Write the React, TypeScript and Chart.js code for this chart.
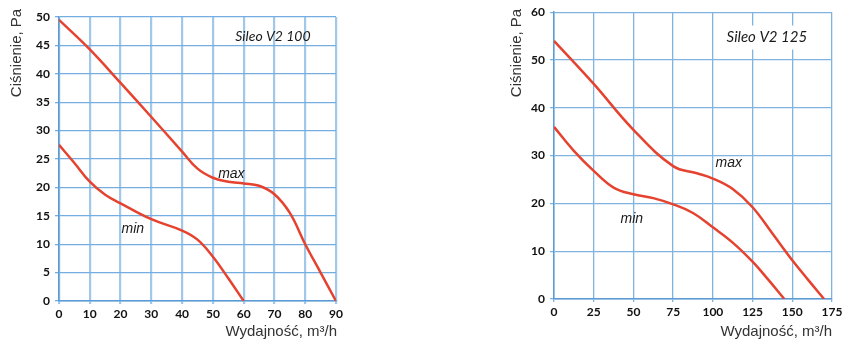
import React, { useEffect, useRef } from "react";
import { Chart, registerables } from "chart.js";

Chart.register(...registerables);

// ---- Data: Sileo V2 100 ----
const v100MaxX = [0, 10, 20, 30, 40, 45, 50, 55, 60, 65, 70, 75, 80, 85, 90];
const v100MaxY = [49.5, 44.3, 38.4, 32.4, 26.3, 23.3, 21.7, 21.0, 20.7, 20.3, 18.8, 15.5, 10, 5, 0];
const v100MinX = [0, 5, 10, 15, 20, 30, 40, 45, 50, 55, 60];
const v100MinY = [27.5, 24.3, 21, 18.7, 17.2, 14.4, 12.4, 10.8, 7.8, 4, 0];

// ---- Data: Sileo V2 125 ----
const v125MaxX = [0, 25, 50, 75, 90, 100, 112.5, 125, 137.5, 150, 160, 170];
const v125MaxY = [54, 45, 35.4, 27.8, 26.3, 25.2, 23, 19.2, 13.7, 8.1, 4, 0];
const v125MinX = [0, 12.5, 25, 37.5, 50, 62.5, 75, 87.5, 100, 112.5, 125, 135, 145];
const v125MinY = [36, 31, 26.8, 23.3, 21.9, 21.1, 19.8, 18, 15, 11.8, 7.8, 4, 0];

const yTitle = "Ciśnienie, Pa";
const xTitle = "Wydajność, m³/h";
const title100 = "Sileo V2 100";
const title125 = "Sileo V2 125";
const maxLabel = "max";
const minLabel = "min";

const RED = "#e5432f";

function pts(xs: number[], ys: number[]) {
  return xs.map((x, i) => ({ x, y: ys[i] }));
}

type Note = { text: string; x: number; y: number; font: string; box?: boolean };

function makeConfig(opts: {
  maxPts: { x: number; y: number }[];
  minPts: { x: number; y: number }[];
  xMax: number;
  xStep: number;
  yMax: number;
  yStep: number;
  yAxisW: number;
  padRight: number;
  padTop: number;
  xAxisH: number;
  xGridColor: string;
  xGridWidth: number;
  yGridColor: string;
  notes: Note[];
  xTitleRight: number;
}) {
  const notesPlugin = {
    id: "notes",
    afterDraw(chart: any) {
      const ctx = chart.ctx as CanvasRenderingContext2D;
      const xs = chart.scales.x;
      const ys = chart.scales.y;
      ctx.save();
      for (const n of opts.notes) {
        const px = xs.getPixelForValue(n.x);
        const py = ys.getPixelForValue(n.y);
        ctx.font = n.font;
        ctx.textBaseline = "middle";
        ctx.textAlign = "center";
        if (n.box) {
          const w = ctx.measureText(n.text).width;
          ctx.fillStyle = "#ffffff";
          ctx.fillRect(px - w / 2 - 8, py - 12, w + 16, 24);
        }
        ctx.fillStyle = "#1a1a1a";
        ctx.fillText(n.text, px, py);
      }
      // axis titles
      ctx.fillStyle = "#333333";
      ctx.font = "15px 'Liberation Sans', Arial, sans-serif";
      ctx.save();
      ctx.translate(17, 53);
      ctx.rotate(-Math.PI / 2);
      ctx.textAlign = "center";
      ctx.textBaseline = "middle";
      ctx.fillText(yTitle, 0, 0);
      ctx.restore();
      ctx.textAlign = "right";
      ctx.textBaseline = "middle";
      ctx.fillText(xTitle, opts.xTitleRight, 332);
      ctx.restore();
    },
  };

  const tickFont = { family: "Lato, 'Open Sans', sans-serif", size: 12, weight: "bold" as const };

  const lineDs = (data: { x: number; y: number }[]) => ({
    data,
    borderColor: RED,
    borderWidth: 2.5,
    pointRadius: 0,
    tension: 0.4,
    fill: false,
  });

  return {
    type: "line" as const,
    data: {
      datasets: [lineDs(opts.maxPts), lineDs(opts.minPts)],
    },
    options: {
      animation: false as const,
      responsive: false,
      layout: { padding: { left: 0, right: opts.padRight, top: opts.padTop, bottom: 0 } },
      plugins: { legend: { display: false }, tooltip: { enabled: false } },
      scales: {
        x: {
          type: "linear" as const,
          min: 0,
          max: opts.xMax,
          ticks: { stepSize: opts.xStep, color: "#111", font: tickFont, padding: 3, maxRotation: 0 },
          grid: { color: opts.xGridColor, lineWidth: opts.xGridWidth, tickLength: 3 },
          border: { color: "#5b9bd5", width: 1.5 },
          afterFit: (s: any) => {
            s.height = opts.xAxisH;
          },
        },
        y: {
          type: "linear" as const,
          min: 0,
          max: opts.yMax,
          ticks: { stepSize: opts.yStep, color: "#111", font: tickFont, padding: 5 },
          grid: { color: opts.yGridColor, lineWidth: 1.3, tickLength: 4 },
          border: { color: "#5b9bd5", width: 1.5 },
          afterFit: (s: any) => {
            s.width = opts.yAxisW;
          },
        },
      },
    },
    plugins: [notesPlugin],
  };
}

export default function App() {
  const leftRef = useRef<HTMLCanvasElement>(null);
  const rightRef = useRef<HTMLCanvasElement>(null);

  useEffect(() => {
    const italicCal = "italic 14px Lato, 'Open Sans', sans-serif";
    const italicArial = "italic 14px 'Liberation Sans', Arial, sans-serif";
    const c1 = new Chart(
      leftRef.current as HTMLCanvasElement,
      makeConfig({
        maxPts: pts(v100MaxX, v100MaxY),
        minPts: pts(v100MinX, v100MinY),
        xMax: 90,
        xStep: 10,
        yMax: 50,
        yStep: 5,
        yAxisW: 59,
        padRight: 14,
        padTop: 17,
        xAxisH: 60,
        xGridColor: "rgba(130,182,225,0.75)",
        xGridWidth: 2.2,
        yGridColor: "#74aee0",
        xTitleRight: 337,
        notes: [
          { text: title100, x: 69.5, y: 46.5, font: italicCal },
          { text: maxLabel, x: 56, y: 22.3, font: italicArial },
          { text: minLabel, x: 24, y: 12.6, font: italicArial },
        ],
      }) as any
    );
    const c2 = new Chart(
      rightRef.current as HTMLCanvasElement,
      makeConfig({
        maxPts: pts(v125MaxX, v125MaxY),
        minPts: pts(v125MinX, v125MinY),
        xMax: 175,
        xStep: 25,
        yMax: 60,
        yStep: 10,
        yAxisW: 54,
        padRight: 21,
        padTop: 9,
        xAxisH: 62,
        xGridColor: "#7fb4df",
        xGridWidth: 1.3,
        yGridColor: "#7fb4df",
        xTitleRight: 332,
        notes: [
          { text: title125, x: 134, y: 54.7, font: "italic 15px Lato, 'Open Sans', sans-serif", box: true },
          { text: maxLabel, x: 110, y: 28.5, font: italicArial },
          { text: minLabel, x: 49, y: 16.8, font: italicArial },
        ],
      }) as any
    );
    return () => {
      c1.destroy();
      c2.destroy();
    };
  }, []);

  return (
    <div
      style={{
        position: "fixed",
        left: 0,
        top: 0,
        width: 853,
        height: 361,
        background: "#fff",
      }}
    >
      <canvas
        ref={leftRef}
        width={350}
        height={361}
        style={{ position: "absolute", left: 0, top: 0, width: 350, height: 361 }}
      />
      <canvas
        ref={rightRef}
        width={353}
        height={361}
        style={{ position: "absolute", left: 500, top: 0, width: 353, height: 361 }}
      />
    </div>
  );
}
